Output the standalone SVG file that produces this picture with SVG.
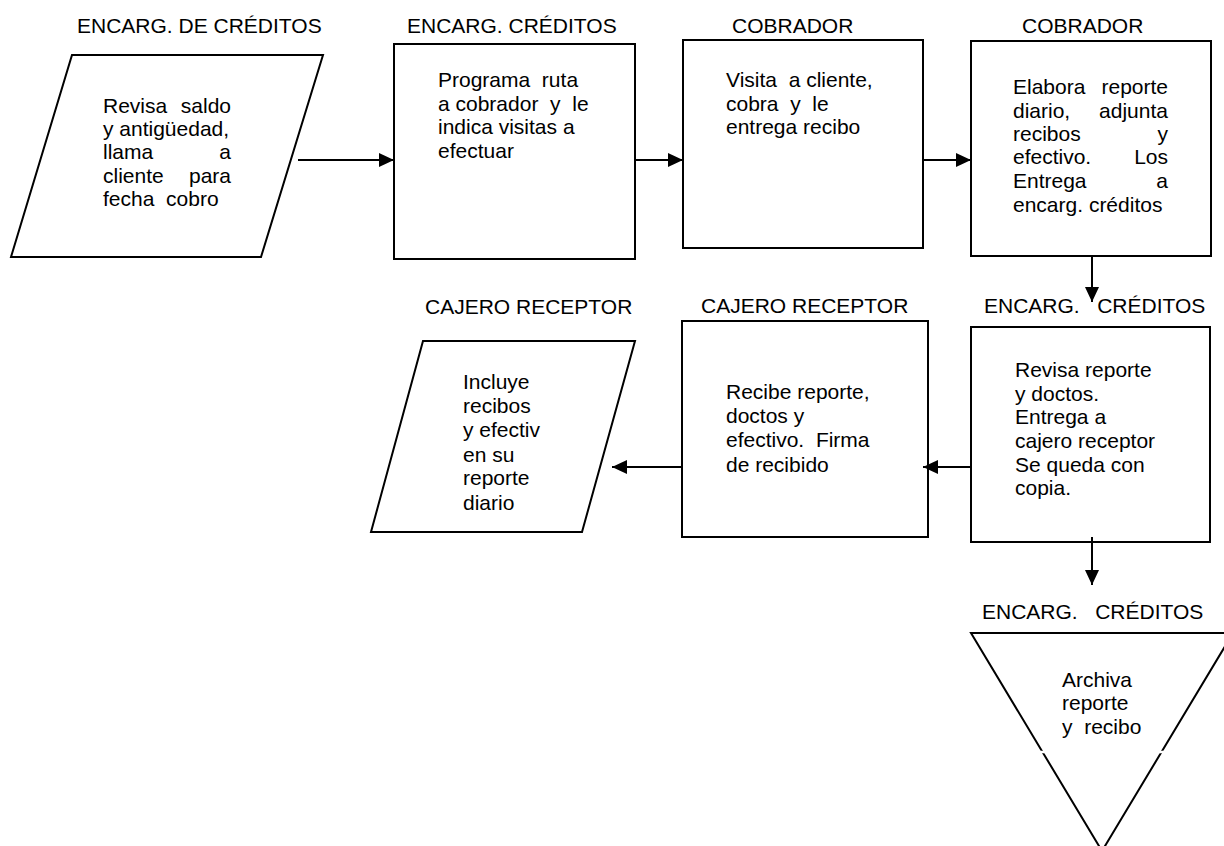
<svg xmlns="http://www.w3.org/2000/svg" width="1224" height="846" viewBox="0 0 1224 846">
  <style>
    text { font-family: "Liberation Sans", Arial, sans-serif; font-size: 21px; fill: #000; }
    .r { text-anchor: end; }
    .shape { fill: #fff; stroke: #000; stroke-width: 2; }
    .conn { fill: none; stroke: #000; stroke-width: 2; }
  </style>
  <defs>
    <marker id="arrow" markerUnits="userSpaceOnUse" markerWidth="16" markerHeight="16" refX="15" refY="7" orient="auto">
      <path d="M0,0 L15,7 L0,14 z" fill="#000"/>
    </marker>
  </defs>

  <!-- Role labels above each step -->
  <g id="labels">
    <text x="77" y="33">ENCARG. DE CRÉDITOS</text>
    <text x="407" y="33">ENCARG. CRÉDITOS</text>
    <text x="732" y="33">COBRADOR</text>
    <text x="1022" y="33">COBRADOR</text>
    <text x="425" y="314">CAJERO RECEPTOR</text>
    <text x="701" y="313">CAJERO RECEPTOR</text>
    <text x="984" y="313" xml:space="preserve">ENCARG.   CRÉDITOS</text>
    <text x="982" y="619" xml:space="preserve">ENCARG.   CRÉDITOS</text>
  </g>

  <!-- Step 1: input (parallelogram) -->
  <g id="n1">
    <polygon class="shape" points="72,55 323,55 261,257 11,257"/>
    <text x="103" y="113">Revisa</text><text class="r" x="231" y="113">saldo</text>
    <text x="103" y="136">y antigüedad,</text>
    <text x="103" y="159">llama</text><text class="r" x="231" y="159">a</text>
    <text x="103" y="183">cliente</text><text class="r" x="231" y="183">para</text>
    <text x="103" y="206" xml:space="preserve">fecha  cobro</text>
  </g>

  <!-- Step 2 -->
  <g id="n2">
    <rect class="shape" x="394" y="44" width="241" height="215"/>
    <text x="438" y="87" xml:space="preserve">Programa  ruta</text>
    <text x="438" y="111" xml:space="preserve">a cobrador  y  le</text>
    <text x="438" y="134">indica visitas a</text>
    <text x="438" y="158">efectuar</text>
  </g>

  <!-- Step 3 -->
  <g id="n3">
    <rect class="shape" x="683" y="40" width="240" height="208"/>
    <text x="726" y="87" xml:space="preserve">Visita  a cliente,</text>
    <text x="726" y="111" xml:space="preserve">cobra  y  le</text>
    <text x="726" y="134">entrega recibo</text>
  </g>

  <!-- Step 4 -->
  <g id="n4">
    <rect class="shape" x="971" y="41" width="240" height="215"/>
    <text x="1013" y="94">Elabora</text><text class="r" x="1168" y="94">reporte</text>
    <text x="1013" y="118">diario,</text><text class="r" x="1168" y="118">adjunta</text>
    <text x="1013" y="141">recibos</text><text class="r" x="1168" y="141">y</text>
    <text x="1013" y="164">efectivo.</text><text class="r" x="1168" y="164">Los</text>
    <text x="1013" y="188">Entrega</text><text class="r" x="1168" y="188">a</text>
    <text x="1013" y="212">encarg. créditos</text>
  </g>

  <!-- Step 5 -->
  <g id="n5">
    <rect class="shape" x="971" y="327" width="239" height="215"/>
    <text x="1015" y="377">Revisa reporte</text>
    <text x="1015" y="401">y doctos.</text>
    <text x="1015" y="424">Entrega a</text>
    <text x="1015" y="448">cajero receptor</text>
    <text x="1015" y="472">Se queda con</text>
    <text x="1015" y="495">copia.</text>
  </g>

  <!-- Step 6 -->
  <g id="n6">
    <rect class="shape" x="682" y="321" width="246" height="216"/>
    <text x="726" y="399">Recibe reporte,</text>
    <text x="726" y="423">doctos y</text>
    <text x="726" y="447" xml:space="preserve">efectivo.  Firma</text>
    <text x="726" y="472">de recibido</text>
  </g>

  <!-- Step 7: output (parallelogram) -->
  <g id="n7">
    <polygon class="shape" points="423,341 635,341 582,532 371,532"/>
    <text x="463" y="389">Incluye</text>
    <text x="463" y="413">recibos</text>
    <text x="463" y="437">y efectiv</text>
    <text x="463" y="462">en su</text>
    <text x="463" y="485">reporte</text>
    <text x="463" y="510">diario</text>
  </g>

  <!-- Step 8: file (inverted triangle) -->
  <g id="n8">
    <polygon class="shape" points="971,633 1233,633 1102,851"/>
    <line x1="1040" y1="752" x2="1166" y2="752" stroke="#fff" stroke-width="2.5"/>
    <text x="1062" y="687">Archiva</text>
    <text x="1062" y="710">reporte</text>
    <text x="1062" y="734" xml:space="preserve">y  recibo</text>
  </g>

  <!-- Flow connectors -->
  <g id="connectors">
    <line class="conn" x1="298" y1="160" x2="394" y2="160" marker-end="url(#arrow)"/>
    <line class="conn" x1="635" y1="160" x2="683" y2="160" marker-end="url(#arrow)"/>
    <line class="conn" x1="923" y1="160" x2="971" y2="160" marker-end="url(#arrow)"/>
    <line class="conn" x1="1092" y1="256" x2="1092" y2="302" marker-end="url(#arrow)"/>
    <line class="conn" x1="971" y1="467" x2="923" y2="467" marker-end="url(#arrow)"/>
    <line class="conn" x1="682" y1="467" x2="612" y2="467" marker-end="url(#arrow)"/>
    <line class="conn" x1="1092" y1="537" x2="1092" y2="585" marker-end="url(#arrow)"/>
  </g>
</svg>
